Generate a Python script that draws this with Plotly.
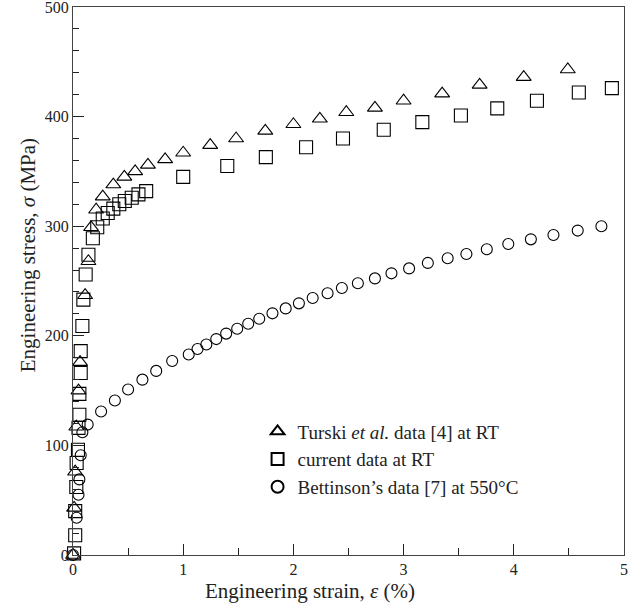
import plotly.graph_objects as go

# Turski et al. data [4] at RT
turski_strain = [0.0, 0.01, 0.02, 0.03, 0.05, 0.064, 0.11, 0.14, 0.164, 0.21, 0.27, 0.366,
                 0.466, 0.564, 0.68, 0.836, 1.0, 1.245, 1.48, 1.745, 2.0, 2.24, 2.48, 2.74,
                 3.0, 3.35, 3.69, 4.09, 4.49]
turski_stress = [0, 43, 76, 117, 150, 176, 237, 268, 299, 315, 327, 338,
                 345, 350, 356, 361, 367, 374, 380, 387, 393, 398, 404, 408,
                 414.5, 421, 429, 436, 443]

# current data at RT
current_strain = [0.01, 0.02, 0.02, 0.03, 0.033, 0.045, 0.05, 0.058, 0.058, 0.07, 0.07, 0.085,
                  0.094, 0.115, 0.14, 0.18, 0.22, 0.27, 0.315, 0.366, 0.42, 0.47, 0.533,
                  0.594, 0.664, 1.0, 1.40, 1.75, 2.115, 2.45, 2.82, 3.17, 3.52, 3.85, 4.21,
                  4.59, 4.89]
current_stress = [1.5, 18, 40, 62, 84, 96, 116, 128, 147, 166, 186, 209,
                  233, 256, 274, 289, 299, 307, 312, 316, 320, 323, 326,
                  329, 332, 345, 355, 363, 372, 380, 388, 395, 401, 407.5, 414.5,
                  422, 426]

# Bettinson's data [7] at 550°C
bett_strain = [0.0, 0.033, 0.05, 0.058, 0.07, 0.085, 0.133, 0.255, 0.38, 0.50, 0.63, 0.755,
               0.90, 1.05, 1.13, 1.21, 1.30, 1.39, 1.49, 1.59, 1.69, 1.81, 1.93, 2.05,
               2.175, 2.31, 2.44, 2.585, 2.74, 2.89, 3.05, 3.22, 3.40, 3.57, 3.755, 3.95,
               4.155, 4.36, 4.58, 4.795]
bett_stress = [0, 34, 55, 69, 91, 112, 119, 131, 141, 151, 160, 168,
               177, 183, 188, 192, 197, 202, 206.5, 211, 215.6, 220.5, 225, 229.6,
               234.5, 238.8, 243.6, 248, 252.4, 257, 261.5, 266.5, 270.7, 274.6, 279, 283.8,
               288, 292, 296, 300]

x_ticks = [0, 1, 2, 3, 4, 5]
y_ticks = [0, 100, 200, 300, 400, 500]

x_title = "Engineering strain, <i>ε</i> (%)"
y_title = "Engineering stress, <i>σ</i> (MPa)"

FONT = "Liberation Serif"
INK = "#222"

fig = go.Figure()
fig.add_trace(go.Scatter(
    x=turski_strain, y=turski_stress, mode="markers",
    name="Turski <i>et al.</i> data [4] at RT",
    marker=dict(symbol="triangle-up-open", size=13, color="black", line=dict(width=1.1)),
    cliponaxis=False))
fig.add_trace(go.Scatter(
    x=current_strain, y=current_stress, mode="markers",
    name="current data at RT",
    marker=dict(symbol="square-open", size=13, color="black", line=dict(width=1.1)),
    cliponaxis=False))
fig.add_trace(go.Scatter(
    x=bett_strain, y=bett_stress, mode="markers",
    name="Bettinson’s data [7] at 550°C",
    marker=dict(symbol="circle-open", size=11, color="black", line=dict(width=1.1)),
    cliponaxis=False))

axis_common = dict(
    showline=True, linecolor="#444", linewidth=1, mirror=True,
    ticks="inside", ticklen=11, tickwidth=1, tickcolor=INK,
    showgrid=False, zeroline=False, ticklabeloverflow="allow", automargin=False,
    tickfont=dict(family=FONT, size=16, color=INK),
)

fig.update_xaxes(
    range=[0, 5.0001], tickmode="array", tickvals=x_ticks, ticktext=[str(v) for v in x_ticks],
    minor=dict(ticks="inside", ticklen=7, dtick=0.5, tick0=0, tickcolor=INK, showgrid=False),
    **axis_common)
fig.update_yaxes(
    range=[0, 500.01], tickmode="array", tickvals=y_ticks, ticktext=[str(v) for v in y_ticks],
    minor=dict(ticks="inside", ticklen=6, dtick=20, tick0=0, tickcolor=INK, showgrid=False),
    **axis_common)

fig.add_annotation(text=x_title, xref="paper", yref="paper", x=0.430, y=-0.066,
                   xanchor="center", yanchor="middle", showarrow=False,
                   font=dict(family=FONT, size=21, color=INK))
fig.add_annotation(text=y_title, xref="paper", yref="paper", x=-0.0817, y=0.547,
                   xanchor="center", yanchor="middle", showarrow=False, textangle=-90,
                   font=dict(family=FONT, size=21, color=INK))

fig.update_layout(
    width=633, height=603,
    margin=dict(l=73, r=9, t=7, b=48, autoexpand=False),
    paper_bgcolor="white", plot_bgcolor="white",
    font=dict(family=FONT, color=INK),
    legend=dict(x=0.335, y=0.26, xanchor="left", yanchor="top",
                font=dict(family=FONT, size=19, color=INK),
                bgcolor="rgba(0,0,0,0)", itemsizing="constant"),
)

fig.write_html("out.html")
